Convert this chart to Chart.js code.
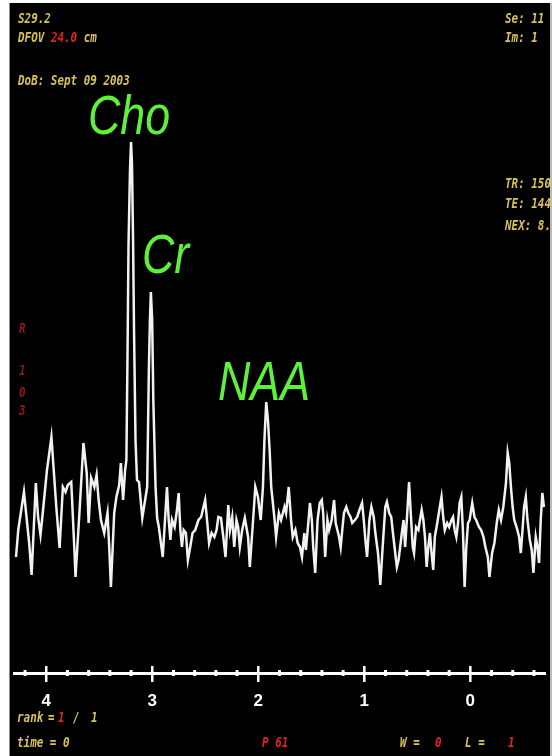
<!DOCTYPE html>
<html>
<head>
<meta charset="utf-8">
<script src="https://cdn.jsdelivr.net/npm/chart.js@4.4.1/dist/chart.umd.min.js"></script>
<style>
  html, body { margin: 0; padding: 0; background: #fff; }
  #page { position: relative; width: 552px; height: 756px; overflow: hidden; background: #fff; }
  #panel { position: absolute; left: 9px; top: 3px; width: 540px; height: 753px; background: #000;
           border-left: 1px solid #888; border-right: 2px solid #bbb; overflow: hidden; }
  #chart { position: absolute; left: 0; top: 0; }
  .t { position: absolute; font: bold italic 14px/14px 'DejaVu Sans Mono', monospace; color: #d8c25a;
       transform: scaleX(0.78); transform-origin: 0 0; white-space: pre; }
  .r { color: #e02424; }
  .dim { color: #8c1c1c; }
  .pk { position: absolute; font: italic 56px/56px 'Liberation Sans', Arial, sans-serif; color: #5ef03a;
        transform: scaleX(0.8); transform-origin: 0 0; white-space: pre; }
</style>
</head>
<body>
<div id="page">
  <div id="panel"></div>
  <canvas id="chart" width="552" height="756"></canvas>

  <div class="t" style="left:18px;top:11px">S29.2</div>
  <div class="t" style="left:18px;top:30px">DFOV <span class="r">24.0</span> cm</div>
  <div class="t" style="left:18px;top:73px">DoB: Sept 09 2003</div>

  <div class="t" style="left:505px;top:11px">Se: 11</div>
  <div class="t" style="left:505px;top:30px">Im: 1</div>
  <div class="t" style="left:505px;top:176px">TR: 150</div>
  <div class="t" style="left:505px;top:196px">TE: 144</div>
  <div class="t" style="left:505px;top:218px">NEX: 8.0</div>

  <div class="t dim" style="left:19px;top:321px">R</div>
  <div class="t dim" style="left:19px;top:363px">1</div>
  <div class="t dim" style="left:19px;top:385px">0</div>
  <div class="t dim" style="left:19px;top:403px">3</div>

  <div class="t" style="left:17px;top:710px">rank</div>
  <div class="t" style="left:48px;top:710px">=</div>
  <div class="t r" style="left:58px;top:710px">1</div>
  <div class="t" style="left:73px;top:710px">/</div>
  <div class="t" style="left:91px;top:710px">1</div>
  <div class="t" style="left:17px;top:735px">time = 0</div>
  <div class="t r" style="left:262px;top:735px">P 61</div>
  <div class="t" style="left:400px;top:735px">W =</div>
  <div class="t r" style="left:435px;top:735px">0</div>
  <div class="t" style="left:465px;top:735px">L =</div>
  <div class="t r" style="left:508px;top:735px">1</div>

  <div class="pk" style="left:88px;top:87px">Cho</div>
  <div class="pk" style="left:142px;top:226px">Cr</div>
  <div class="pk" style="left:218px;top:353px">NAA</div>
</div>

<script>
// chemical shift (ppm), left to right
const ppm = [
  4.285, 4.264, 4.210, 4.161, 4.138, 4.098, 4.077, 4.054, 4.030, 3.993,
  3.951, 3.905, 3.874, 3.843, 3.818, 3.796, 3.764, 3.733, 3.724, 3.687,
  3.649, 3.618, 3.600, 3.577, 3.546, 3.525, 3.506, 3.484, 3.453, 3.422,
  3.406, 3.390, 3.359, 3.338, 3.312, 3.296, 3.275, 3.256, 3.244, 3.233,
  3.224, 3.210, 3.200, 3.191, 3.181, 3.172, 3.158, 3.144, 3.125, 3.094,
  3.048, 3.032, 3.022, 3.013, 3.001, 2.990, 2.969, 2.954, 2.938, 2.901,
  2.876, 2.861, 2.845, 2.829, 2.814, 2.789, 2.767, 2.751, 2.735, 2.720,
  2.704, 2.683, 2.664, 2.642, 2.620, 2.595, 2.564, 2.539, 2.517, 2.501,
  2.486, 2.464, 2.440, 2.414, 2.393, 2.377, 2.352, 2.330, 2.309, 2.283,
  2.267, 2.246, 2.227, 2.206, 2.190, 2.174, 2.152, 2.127, 2.096, 2.080,
  2.049, 2.028, 2.003, 1.977, 1.956, 1.942, 1.925, 1.909, 1.893, 1.878,
  1.846, 1.832, 1.806, 1.785, 1.753, 1.738, 1.713, 1.691, 1.675, 1.650,
  1.629, 1.607, 1.588, 1.566, 1.551, 1.526, 1.513, 1.495, 1.482, 1.463,
  1.441, 1.420, 1.401, 1.388, 1.369, 1.348, 1.332, 1.308, 1.285, 1.270,
  1.254, 1.238, 1.223, 1.208, 1.192, 1.170, 1.151, 1.130, 1.114, 1.089,
  1.067, 1.046, 1.021, 1.005, 0.990, 0.974, 0.952, 0.933, 0.911, 0.896,
  0.871, 0.849, 0.827, 0.802, 0.787, 0.765, 0.746, 0.733, 0.715, 0.693,
  0.677, 0.662, 0.646, 0.630, 0.615, 0.599, 0.578, 0.562, 0.543, 0.531,
  0.512, 0.490, 0.475, 0.459, 0.443, 0.428, 0.412, 0.397, 0.381, 0.366,
  0.350, 0.335, 0.312, 0.288, 0.272, 0.256, 0.241, 0.219, 0.200, 0.178,
  0.163, 0.148, 0.132, 0.116, 0.101, 0.085, 0.069, 0.054, 0.038, 0.022,
  0.007, -0.018, -0.039, -0.055, -0.081, -0.102, -0.124, -0.142, -0.165, -0.180,
  -0.205, -0.227, -0.249, -0.268, -0.289, -0.311, -0.336, -0.352, -0.367, -0.383,
  -0.399, -0.414, -0.436, -0.460, -0.476, -0.492, -0.507, -0.523, -0.539, -0.561,
  -0.579, -0.595, -0.617, -0.633, -0.648, -0.664, -0.679, -0.694
];

// signal intensity (arbitrary units)
const signal = [
  116, 143, 181, 130, 98, 190, 156, 138, 163, 203,
  236, 166, 125, 186, 181, 188, 191, 120, 96, 160,
  230, 200, 150, 195, 186, 198, 173, 153, 140, 160,
  126, 86, 160, 176, 188, 210, 173, 203, 213, 323,
  428, 503, 531, 508, 433, 343, 233, 193, 191, 155,
  186, 303, 353, 381, 353, 273, 186, 155, 146, 116,
  160, 186, 153, 133, 153, 146, 163, 180, 143, 126,
  143, 140, 113, 126, 140, 143, 153, 156, 166, 173,
  156, 130, 140, 136, 143, 156, 155, 136, 116, 168,
  143, 156, 126, 153, 146, 126, 143, 155, 136, 106,
  153, 186, 176, 153, 186, 233, 271, 253, 223, 186,
  153, 136, 160, 153, 166, 160, 186, 153, 136, 143,
  130, 126, 116, 140, 123, 153, 170, 153, 126, 100,
  153, 170, 173, 160, 116, 153, 143, 153, 173, 150,
  143, 136, 126, 143, 160, 166, 160, 156, 150, 153,
  156, 163, 170, 153, 133, 116, 153, 166, 156, 140,
  120, 88, 126, 166, 171, 160, 156, 143, 126, 106,
  113, 126, 140, 153, 126, 153, 191, 160, 126, 120,
  146, 143, 153, 163, 153, 136, 106, 126, 140, 120,
  103, 136, 150, 166, 176, 156, 143, 150, 146, 153,
  156, 143, 136, 150, 170, 176, 140, 86, 126, 150,
  153, 170, 156, 153, 146, 143, 136, 126, 116, 96,
  120, 130, 150, 163, 153, 166, 190, 220, 210, 186,
  166, 153, 146, 136, 120, 143, 166, 176, 153, 133,
  123, 100, 136, 126, 110, 153, 180, 166
];

const axisLabels = ['4', '3', '2', '1', '0'];

// little marks across the axis line, majors longer
const tickMarks = {
  id: 'tickMarks',
  afterDatasetsDraw(chart) {
    const sx = chart.scales.x;
    const ctx = chart.ctx;
    const y0 = chart.chartArea.bottom;
    ctx.save();
    ctx.strokeStyle = '#ffffff';
    sx.ticks.forEach(t => {
      const px = sx.getPixelForValue(t.value);
      const major = Math.abs(t.value - Math.round(t.value)) < 1e-6;
      ctx.lineWidth = major ? 2.5 : 3;
      ctx.beginPath();
      ctx.moveTo(px, y0 - (major ? 7 : 3));
      ctx.lineTo(px, y0 + (major ? 9 : 3));
      ctx.stroke();
    });
    ctx.restore();
  }
};

new Chart(document.getElementById('chart'), {
  type: 'line',
  data: {
    datasets: [{
      data: ppm.map((p, i) => ({ x: p, y: signal[i] })),
      borderColor: '#f2f2f2',
      borderWidth: 2.5,
      pointRadius: 0,
      tension: 0,
      fill: false
    }]
  },
  options: {
    responsive: false,
    animation: false,
    layout: { padding: { left: 14, right: 2, top: 73, bottom: 0 } },
    plugins: { legend: { display: false }, tooltip: { enabled: false } },
    scales: {
      x: {
        type: 'linear',
        reverse: true,
        min: -0.71,
        max: 4.304,
        afterFit: s => { s.height = 83; },
        border: { display: true, color: '#ffffff', width: 3 },
        grid: { display: false, drawTicks: false },
        ticks: {
          stepSize: 0.2,
          includeBounds: false,
          autoSkip: false,
          maxRotation: 0,
          padding: 18,
          color: '#ffffff',
          font: { family: 'Liberation Sans', size: 17, weight: 'bold' },
          callback: v => {
            const n = Math.round(v);
            return Math.abs(v - n) < 1e-6 && axisLabels.includes(String(n)) ? String(n) : '';
          }
        }
      },
      y: { display: false, min: 0, max: 600 }
    }
  },
  plugins: [tickMarks]
});
</script>
</body>
</html>
